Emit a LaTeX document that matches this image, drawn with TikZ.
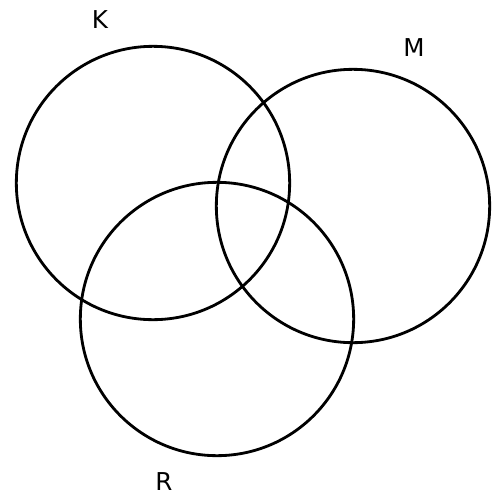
\documentclass[tikz,border=0pt]{standalone}
\usepackage{fontspec}
\setmainfont{DejaVu Sans}
\usetikzlibrary{shapes.geometric}

\begin{document}
\begin{tikzpicture}[
    x=0.03cm, y=-0.03cm,
    set/.style={draw, circle, line width=2.4pt, minimum size=8.2cm, inner sep=0pt},
    setlabel/.style={anchor=base, inner sep=1pt, text depth=0pt, font=\fontsize{21}{25}\selectfont}
]
    \useasboundingbox (0,0) rectangle (495,497);
    \node[set] (k) at (153,183) {};
    \node[set] (m) at (353,206) {};
    \node[set] (r) at (217,319) {};

    \node[setlabel] (klabel) at (100,28) {K};
    \node[setlabel] (mlabel) at (414,56) {M};
    \node[setlabel] (rlabel) at (164,490) {R};
\end{tikzpicture}
\end{document}
